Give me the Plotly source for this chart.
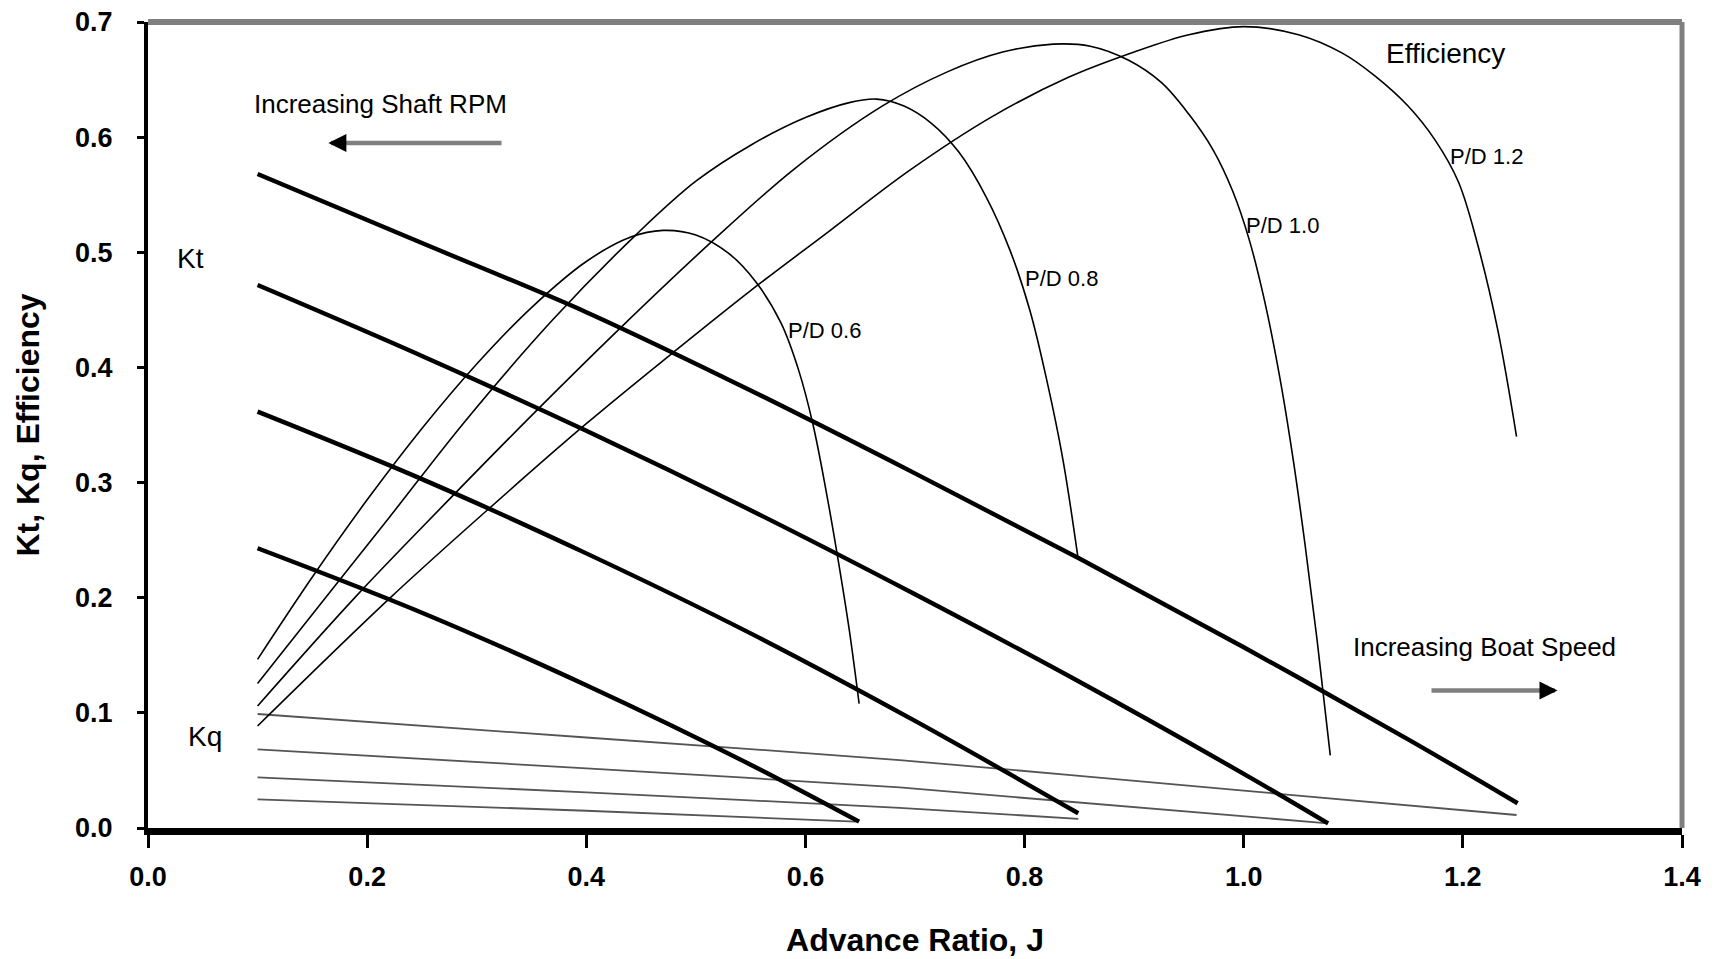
import plotly.graph_objects as go

# ---------------- data ----------------
tick_vals_x = [0.0, 0.2, 0.4, 0.6, 0.8, 1.0, 1.2, 1.4]
tick_text_x = ["0.0", "0.2", "0.4", "0.6", "0.8", "1.0", "1.2", "1.4"]
tick_vals_y = [0.0, 0.1, 0.2, 0.3, 0.4, 0.5, 0.6, 0.7]
tick_text_y = ["0.0", "0.1", "0.2", "0.3", "0.4", "0.5", "0.6", "0.7"]

# Thrust coefficient Kt
j_kt12 = [0.10, 0.25, 0.40, 0.55, 0.70, 0.85, 1.00, 1.15, 1.25]
kt12 = [0.568, 0.508, 0.448, 0.380, 0.308, 0.234, 0.157, 0.077, 0.0215]
j_kt10 = [0.10, 0.25, 0.40, 0.55, 0.70, 0.85, 1.00, 1.077]
kt10 = [0.4716, 0.410, 0.345, 0.276, 0.203, 0.127, 0.047, 0.004]
j_kt08 = [0.10, 0.25, 0.40, 0.55, 0.70, 0.849]
kt08 = [0.3616, 0.303, 0.2385, 0.169, 0.093, 0.0128]
j_kt06 = [0.10, 0.25, 0.40, 0.55, 0.649]
kt06 = [0.243, 0.187, 0.124, 0.055, 0.0055]

# Torque coefficient Kq
j_kq12 = [0.10, 0.40, 0.686, 1.00, 1.249]
kq12 = [0.099, 0.0786, 0.059, 0.0324, 0.0113]
j_kq10 = [0.10, 0.40, 0.686, 1.077]
kq10 = [0.0683, 0.0518, 0.0352, 0.004]
j_kq08 = [0.10, 0.40, 0.686, 0.849]
kq08 = [0.044, 0.031, 0.0174, 0.008]
j_kq06 = [0.10, 0.40, 0.646]
kq06 = [0.0249, 0.0150, 0.0055]

# Open-water efficiency
j_eff06 = [0.10, 0.15, 0.20, 0.25, 0.30, 0.35, 0.40, 0.44, 0.47, 0.50, 0.53, 0.555,
           0.578, 0.594, 0.607, 0.619, 0.630, 0.640, 0.649]
eff06 = [0.1465, 0.218, 0.285, 0.347, 0.403, 0.452, 0.492, 0.513, 0.519, 0.515, 0.499, 0.474,
         0.438, 0.397, 0.350, 0.292, 0.232, 0.172, 0.108]
j_eff08 = [0.10, 0.16, 0.22, 0.29, 0.37, 0.447, 0.50, 0.55, 0.60, 0.64, 0.665, 0.69, 0.715,
           0.74, 0.765, 0.787, 0.805, 0.82, 0.835, 0.849]
eff08 = [0.1255, 0.1975, 0.2695, 0.354, 0.442, 0.5167, 0.5617, 0.593, 0.617, 0.630, 0.633, 0.627,
         0.612, 0.587, 0.548, 0.501, 0.449, 0.39, 0.32, 0.233]
j_eff10 = [0.10, 0.19, 0.27, 0.345, 0.43, 0.51, 0.59, 0.67, 0.73, 0.78, 0.826, 0.86, 0.895,
           0.925, 0.95, 0.972, 0.99, 1.005, 1.019, 1.033, 1.045, 1.056, 1.067, 1.079]
eff10 = [0.106, 0.2014, 0.2806, 0.3534, 0.4333, 0.5053, 0.5725, 0.6269, 0.6569, 0.6739, 0.6808,
         0.679, 0.6668, 0.6473, 0.6198, 0.589, 0.553, 0.511, 0.458, 0.391, 0.321, 0.246, 0.163, 0.063]
j_eff12 = [0.10, 0.22, 0.31, 0.40, 0.48, 0.55, 0.62, 0.695, 0.77, 0.84, 0.90, 0.95, 1.00, 1.05,
           1.09, 1.12, 1.15, 1.175, 1.196, 1.214, 1.232, 1.249]
eff12 = [0.0886, 0.199, 0.2764, 0.3511, 0.4135, 0.4667, 0.5171, 0.5711, 0.6176, 0.652, 0.674,
         0.689, 0.696, 0.689, 0.673, 0.653, 0.627, 0.597, 0.561, 0.505, 0.432, 0.34]

# text labels: (text, J, value, size)
labels = [
    ("Efficiency", 1.1843, 0.6728, 28),
    ("P/D 1.2", 1.2214, 0.583, 22),
    ("P/D 1.0", 1.0353, 0.5237, 22),
    ("P/D 0.8", 0.8338, 0.4774, 22),
    ("P/D 0.6", 0.6177, 0.432, 22),
    ("Kt", 0.039, 0.495, 28),
    ("Kq", 0.0517, 0.0793, 28),
    ("Increasing Shaft RPM", 0.2126, 0.629, 26),
    ("Increasing Boat Speed", 1.22, 0.1575, 26),
]
# arrows: (tail J, head J, value)
arrows = [
    (0.324, 0.167, 0.595),
    (1.170, 1.284, 0.1195),
]

FONT = "Liberation Sans, Arial, sans-serif"

fig = go.Figure()

for jj, vv in [(j_kq12, kq12), (j_kq10, kq10), (j_kq08, kq08), (j_kq06, kq06)]:
    fig.add_trace(go.Scatter(x=jj, y=vv, mode="lines",
                             line=dict(color="#555555", width=1.8, shape="spline", smoothing=0.6)))

for jj, vv in [(j_eff06, eff06), (j_eff08, eff08), (j_eff10, eff10), (j_eff12, eff12)]:
    fig.add_trace(go.Scatter(x=jj, y=vv, mode="lines",
                             line=dict(color="black", width=1.6, shape="spline", smoothing=1.0)))

for jj, vv in [(j_kt12, kt12), (j_kt10, kt10), (j_kt08, kt08), (j_kt06, kt06)]:
    fig.add_trace(go.Scatter(x=jj, y=vv, mode="lines",
                             line=dict(color="black", width=4.4, shape="spline", smoothing=1.0)))

annotations = []
for text, xj, yv, sz in labels:
    annotations.append(dict(x=xj, y=yv, xref="x", yref="y", text=text, showarrow=False,
                            xanchor="center", yanchor="middle",
                            font=dict(family=FONT, size=sz, color="black")))
for tail, head, yv in arrows:
    # gray shaft
    annotations.append(dict(x=head, y=yv, ax=tail, ay=yv, xref="x", yref="y", axref="x", ayref="y",
                            text="", showarrow=True, arrowhead=0, arrowwidth=4.5, arrowcolor="#808080"))
    # black head
    d = 0.012 if head > tail else -0.012
    annotations.append(dict(x=head + d * 0.2, y=yv, ax=head - d, ay=yv, xref="x", yref="y",
                            axref="x", ayref="y", text="", showarrow=True, arrowhead=2,
                            arrowsize=0.9, arrowwidth=4, arrowcolor="black"))

tickfont = dict(family=FONT, size=27, color="black", weight="bold")

fig.update_layout(
    width=1718, height=959,
    margin=dict(l=148, r=36, t=22, b=131, autoexpand=False),
    paper_bgcolor="white", plot_bgcolor="white",
    showlegend=False,
    annotations=annotations,
    xaxis=dict(range=[0, 1.4], tickmode="array", tickvals=tick_vals_x, ticktext=tick_text_x,
               ticks="outside", ticklen=13, tickwidth=3, tickcolor="black",
               showline=True, linewidth=7, linecolor="black", automargin=False,
               showgrid=False, zeroline=False, tickfont=tickfont, ticklabelstandoff=6,
               title=dict(text="Advance Ratio, J", standoff=40,
                          font=dict(family=FONT, size=32, color="black", weight="bold"))),
    yaxis=dict(range=[0, 0.7], tickmode="array", tickvals=tick_vals_y, ticktext=tick_text_y,
               ticks="outside", ticklen=7, tickwidth=3, tickcolor="black",
               showline=True, linewidth=4, linecolor="black", automargin=False,
               showgrid=False, zeroline=False, tickfont=tickfont, ticklabelstandoff=19,
               title=dict(text="Kt, Kq, Efficiency", standoff=27,
                          font=dict(family=FONT, size=32, color="black", weight="bold"))),
    xaxis2=dict(range=[0, 1.4], overlaying="x", anchor="y", side="bottom", automargin=False,
                tickmode="array", tickvals=tick_vals_x, ticks="inside", ticklen=13, tickwidth=3,
                tickcolor="black", showticklabels=False, showline=False, showgrid=False, zeroline=False),
    yaxis2=dict(range=[0, 0.7], overlaying="y", anchor="x", side="left", automargin=False,
                tickmode="array", tickvals=tick_vals_y, ticks="inside", ticklen=7, tickwidth=3,
                tickcolor="black", showticklabels=False, showline=False, showgrid=False, zeroline=False),
    shapes=[
        dict(type="line", xref="paper", yref="paper", x0=0, x1=1, y0=1, y1=1,
             line=dict(color="#808080", width=6), layer="below"),
        dict(type="line", xref="paper", yref="paper", x0=1, x1=1, y0=0, y1=1,
             line=dict(color="#808080", width=5), layer="below"),
    ],
)

fig.write_html("out.html", config={"displayModeBar": False},
               post_script="document.body.style.margin='0';")
